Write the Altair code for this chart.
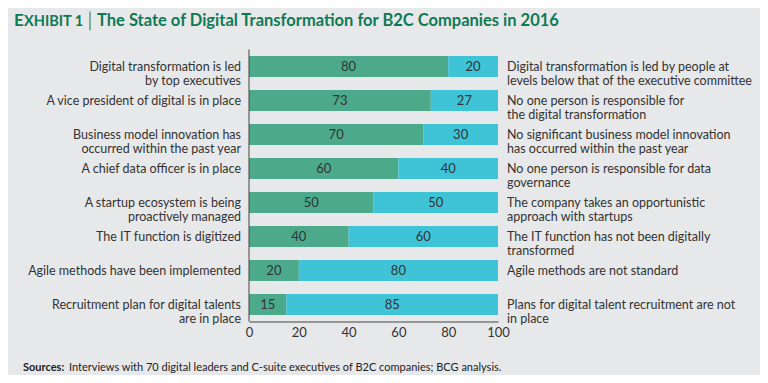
import altair as alt
import pandas as pd

left_labels = [
    "Digital transformation is led\nby top executives",
    "A vice president of digital is in place",
    "Business model innovation has\noccurred within the past year",
    "A chief data officer is in place",
    "A startup ecosystem is being\nproactively managed",
    "The IT function is digitized",
    "Agile methods have been implemented",
    "Recruitment plan for digital talents\nare in place",
]
right_labels = [
    "Digital transformation is led by people at\nlevels below that of the executive committee",
    "No one person is responsible for\nthe digital transformation",
    "No significant business model innovation\nhas occurred within the past year",
    "No one person is responsible for data\ngovernance",
    "The company takes an opportunistic\napproach with startups",
    "The IT function has not been digitally\ntransformed",
    "Agile methods are not standard",
    "Plans for digital talent recruitment are not\nin place",
]
yes_vals = [80, 73, 70, 60, 50, 40, 20, 15]
no_vals = [20, 27, 30, 40, 50, 60, 80, 85]
x_ticks = [0, 20, 40, 60, 80, 100]

GREEN = "#4caa8b"
CYAN = "#3ec3d7"
BG = "#e7e8e9"
TITLE = "#0e7a55"
TXT = "#333333"
FONT = "Lato"

ids = [f"r{i}" for i in range(len(yes_vals))]
rows = []
for i, rid in enumerate(ids):
    rows.append({"id": rid, "seg": "yes", "start": 0, "end": yes_vals[i], "val": yes_vals[i],
                 "mid": yes_vals[i] / 2, "left": left_labels[i], "right": right_labels[i]})
    rows.append({"id": rid, "seg": "no", "start": yes_vals[i], "end": 100, "val": no_vals[i],
                 "mid": yes_vals[i] + no_vals[i] / 2, "left": left_labels[i], "right": right_labels[i]})
df = pd.DataFrame(rows)
lab = df[df.seg == "yes"]

yscale = alt.Scale(domain=ids, paddingInner=0.38, paddingOuter=0.19)
xscale = alt.Scale(domain=[0, 100], nice=False)
Y = alt.Y("id:N", scale=yscale, axis=None, sort=ids)

base = alt.Chart(df)
bars = base.mark_bar().encode(
    x=alt.X("start:Q", scale=xscale,
            axis=alt.Axis(values=x_ticks, grid=False, ticks=False, domain=True, domainColor="#444",
                          labelFont=FONT, labelFontSize=13, labelColor=TXT, title=None, labelPadding=5,
                          labelFlush=False)),
    x2="end:Q",
    y=Y,
    color=alt.Color("seg:N", scale=alt.Scale(domain=["yes", "no"], range=[GREEN, CYAN]), legend=None),
)
vals = base.mark_text(font=FONT, fontSize=13, color=TXT).encode(
    x=alt.X("mid:Q", scale=xscale), y=Y, text="val:Q")

yaxis_line = alt.Chart(pd.DataFrame({"a": [0]})).mark_rule(color="#444", strokeWidth=1).encode(
    x=alt.value(0), y=alt.value(0), y2=alt.value(272))

left = alt.Chart(lab).mark_text(font=FONT, fontSize=12.5, color=TXT, align="right",
                                  baseline="middle", lineBreak="\n", lineHeight=14).encode(
    x=alt.value(-8), y=Y, text="left:N")
right = alt.Chart(lab).mark_text(font=FONT, fontSize=12.5, color=TXT, align="left",
                                   baseline="middle", lineBreak="\n", lineHeight=14).encode(
    x=alt.value(258), y=Y, text="right:N")

t = pd.DataFrame({"a": [0]})
title_e = alt.Chart(t).mark_text(font=FONT, fontSize=17, fontWeight="bold", color=TITLE, align="left",
                                  baseline="alphabetic").encode(x=alt.value(-235), y=alt.value(-23.5), text=alt.value("E"))
title_x = alt.Chart(t).mark_text(font=FONT, fontSize=14.5, fontWeight="bold", color=TITLE, align="left",
                                  baseline="alphabetic").encode(x=alt.value(-225), y=alt.value(-23.5), text=alt.value("XHIBIT 1"))
title_bar = alt.Chart(t).mark_rule(color=TITLE, strokeWidth=1).encode(
    x=alt.value(-159), y=alt.value(-38), y2=alt.value(-19))
title_main = alt.Chart(t).mark_text(font=FONT, fontSize=16.5, fontWeight="bold", color=TITLE, align="left",
                                     baseline="alphabetic").encode(
    x=alt.value(-152), y=alt.value(-23.5),
    text=alt.value("The State of Digital Transformation for B2C Companies in 2016"))
src_b = alt.Chart(t).mark_text(font=FONT, fontSize=11, fontWeight="bold", color="#222", align="left",
                                baseline="alphabetic").encode(x=alt.value(-226), y=alt.value(321), text=alt.value("Sources:"))
src = alt.Chart(t).mark_text(font=FONT, fontSize=11, color="#222", align="left",
                              baseline="alphabetic").encode(
    x=alt.value(-180), y=alt.value(321),
    text=alt.value("Interviews with 70 digital leaders and C-suite executives of B2C companies; BCG analysis."))

chart = alt.layer(bars, vals, yaxis_line, left, right, title_e, title_x, title_bar, title_main, src_b, src).properties(
    width=249, height=272,
    autosize=alt.AutoSizeParams(type="none"),
    padding={"left": 241, "top": 41.5, "right": 262, "bottom": 53},
    background=BG,
).configure_view(stroke=None)

chart.save("out.html", embed_options={"renderer": "svg", "actions": False})
